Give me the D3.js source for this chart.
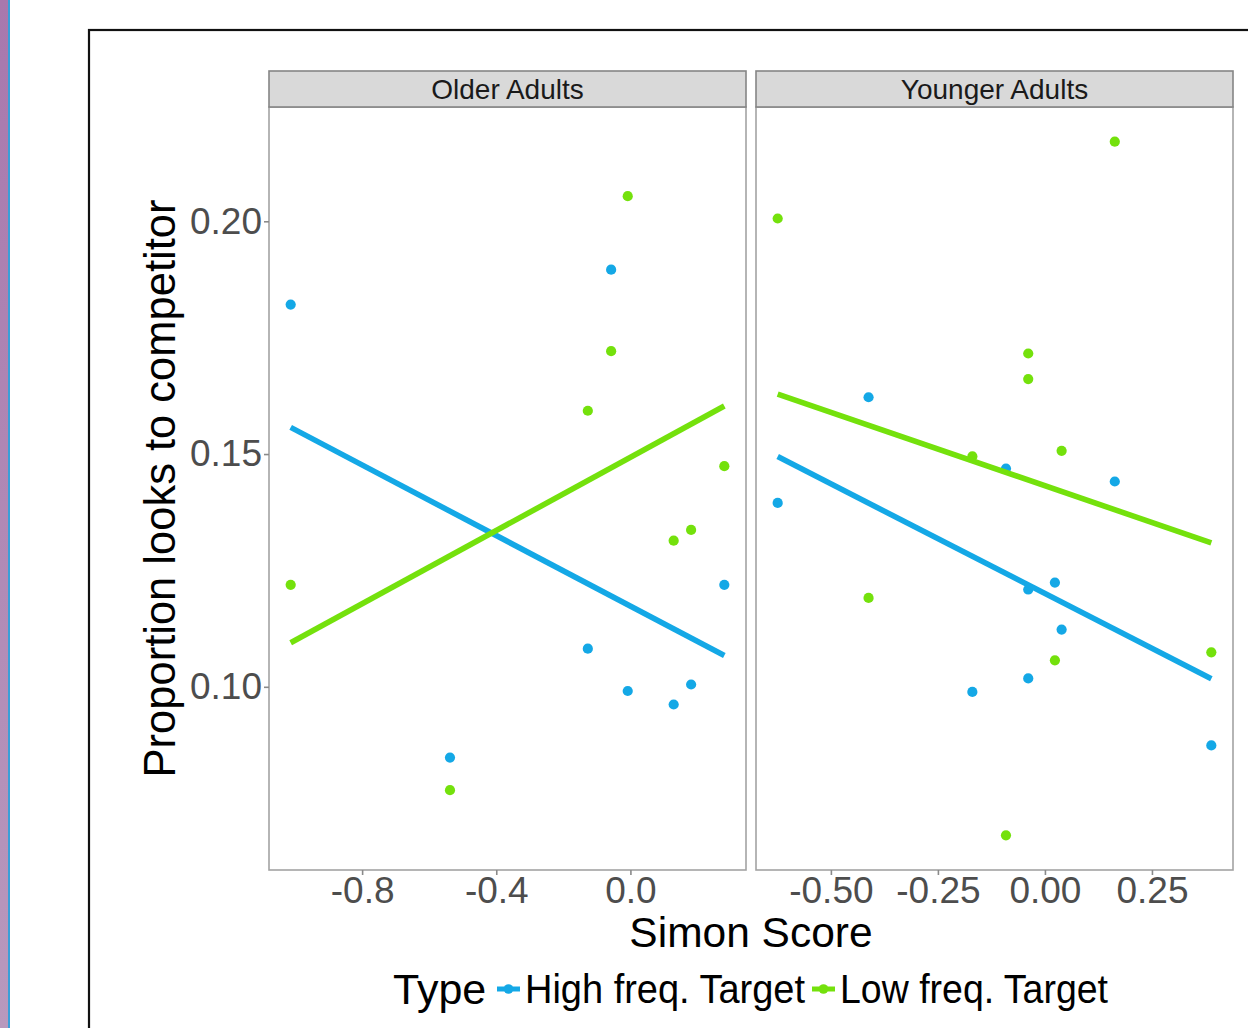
<!DOCTYPE html>
<html>
<head>
<meta charset="utf-8">
<script src="https://cdn.jsdelivr.net/npm/d3@7"></script>
<style>
  html, body { margin: 0; padding: 0; background: #fff; }
  svg { display: block; }
  text { font-family: "Liberation Sans", Arial, Helvetica, sans-serif; }
</style>
</head>
<body>
<svg id="chart" width="1248" height="1028"></svg>
<script>
// ---- Data ----
const panels = ["Older Adults", "Younger Adults"];
const seriesNames = ["High freq. Target", "Low freq. Target"];
const seriesColors = ["#14a8e6", "#74e10c"];

const olderX    = [-1.013, -0.538, -0.127, -0.0575, -0.008, 0.129, 0.181, 0.280];
const olderHigh = [0.1821, 0.0848, 0.1082, 0.1896, 0.0991, 0.0962, 0.1005, 0.1219];
const olderLow  = [0.1219, 0.0778, 0.1593, 0.1721, 0.2054, 0.1314, 0.1337, 0.1474];

const youngerX    = [-0.6243, -0.412, -0.1695, -0.091, -0.039, -0.039, 0.0233, 0.039, 0.1632, 0.3887];
const youngerHigh = [0.1395, 0.1622, 0.0989, 0.1469, 0.1209, 0.1018, 0.1224, 0.1123, 0.1441, 0.0874];
const youngerLow  = [0.2006, 0.1191, 0.1495, 0.0681, 0.1716, 0.1661, 0.1057, 0.1507, 0.2171, 0.1074];

const yTicks = [0.10, 0.15, 0.20];
const yTickLabels = ["0.10", "0.15", "0.20"];
const olderXTicks = [-0.8, -0.4, 0.0];
const olderXTickLabels = ["-0.8", "-0.4", "0.0"];
const youngerXTicks = [-0.5, -0.25, 0.0, 0.25];
const youngerXTickLabels = ["-0.50", "-0.25", "0.00", "0.25"];

const xTitle = "Simon Score";
const yTitle = "Proportion looks to competitor";
const legendTitle = "Type";

// ---- Layout ----
const svg = d3.select("#chart");
const W = 1248, H = 1028;
svg.append("rect").attr("width", W).attr("height", H).attr("fill", "#fff");

// left decorative strip
const grad = svg.append("defs").append("linearGradient").attr("id", "strip")
  .attr("x1", 0).attr("y1", 0).attr("x2", 0).attr("y2", 1);
grad.append("stop").attr("offset", 0).attr("stop-color", "#a878ad");
grad.append("stop").attr("offset", 1).attr("stop-color", "#b899bd");
svg.append("rect").attr("x", 0).attr("y", 0).attr("width", 8).attr("height", H).attr("fill", "url(#strip)");
svg.append("rect").attr("x", 8).attr("y", 0).attr("width", 2).attr("height", H).attr("fill", "#3a9fd8");

// outer frame (extends beyond the picture)
svg.append("rect").attr("x", 89).attr("y", 30).attr("width", 2000).attr("height", 2000)
  .attr("fill", "none").attr("stroke", "#111").attr("stroke-width", 2.2);

const panelTop = 107, panelBottom = 870;
const stripTop = 71;
const panelLefts = [269, 756];
const panelW = 477;

const allY = olderHigh.concat(olderLow, youngerHigh, youngerLow);
function expand(ext) { const r = ext[1] - ext[0]; return [ext[0] - 0.05 * r, ext[1] + 0.05 * r]; }
const y = d3.scaleLinear().domain(expand(d3.extent(allY))).range([panelBottom, panelTop]);

const panelData = [
  { x: olderX, ys: [olderHigh, olderLow], ticks: olderXTicks, labels: olderXTickLabels },
  { x: youngerX, ys: [youngerHigh, youngerLow], ticks: youngerXTicks, labels: youngerXTickLabels }
];

function lm(xs, ys) {
  const mx = d3.mean(xs), my = d3.mean(ys);
  let sxy = 0, sxx = 0;
  xs.forEach((v, i) => { sxy += (v - mx) * (ys[i] - my); sxx += (v - mx) * (v - mx); });
  const b = sxy / sxx;
  return { a: my - b * mx, b };
}

const tickColor = "#8a8a8a";
const tickTextColor = "#4d4d4d";
const tickFont = 37;

panelData.forEach((pd, pi) => {
  const left = panelLefts[pi];
  const x = d3.scaleLinear().domain(expand(d3.extent(pd.x))).range([left, left + panelW]);
  const g = svg.append("g");

  g.append("rect").attr("x", left).attr("y", panelTop).attr("width", panelW)
    .attr("height", panelBottom - panelTop).attr("fill", "#fff");

  // points
  pd.ys.forEach((ys, si) => {
    g.selectAll(null).data(ys.map((v, i) => [pd.x[i], v])).enter().append("circle")
      .attr("cx", d => x(d[0])).attr("cy", d => y(d[1])).attr("r", 5.1)
      .attr("fill", seriesColors[si]);
  });
  // regression lines
  pd.ys.forEach((ys, si) => {
    const m = lm(pd.x, ys);
    const ext = d3.extent(pd.x);
    const line = d3.line().x(d => x(d)).y(d => y(m.a + m.b * d));
    g.append("path").attr("d", line(ext)).attr("fill", "none")
      .attr("stroke", seriesColors[si]).attr("stroke-width", 5.6);
  });

  // panel border
  g.append("rect").attr("x", left).attr("y", panelTop).attr("width", panelW)
    .attr("height", panelBottom - panelTop).attr("fill", "none")
    .attr("stroke", "#a3a3a3").attr("stroke-width", 1.6);

  // strip
  g.append("rect").attr("x", left).attr("y", stripTop).attr("width", panelW)
    .attr("height", panelTop - stripTop).attr("fill", "#d9d9d9")
    .attr("stroke", "#858585").attr("stroke-width", 1.6);
  g.append("text").attr("x", left + panelW / 2).attr("y", (stripTop + panelTop) / 2)
    .attr("dy", "0.36em").attr("text-anchor", "middle").attr("font-size", 28)
    .attr("fill", "#1a1a1a").text(panels[pi]);

  // x axis
  const xAxis = d3.axisBottom(x).tickValues(pd.ticks)
    .tickFormat((d, i) => pd.labels[i]).tickSize(5).tickPadding(2);
  const ax = g.append("g").attr("transform", `translate(0,${panelBottom})`).call(xAxis);
  ax.select(".domain").remove();
  ax.selectAll("line").attr("stroke", tickColor).attr("stroke-width", 1.6);
  ax.selectAll("text").attr("font-size", tickFont).attr("fill", tickTextColor)
    .attr("font-family", "Liberation Sans, Arial, sans-serif");

  if (pi === 0) {
    const yAxis = d3.axisLeft(y).tickValues(yTicks).tickFormat((d, i) => yTickLabels[i])
      .tickSize(5).tickPadding(2);
    const ay = g.append("g").attr("transform", `translate(${left},0)`).call(yAxis);
    ay.select(".domain").remove();
    ay.selectAll("line").attr("stroke", tickColor).attr("stroke-width", 1.6);
    ay.selectAll("text").attr("font-size", tickFont).attr("fill", tickTextColor)
      .attr("font-family", "Liberation Sans, Arial, sans-serif");
  }
});

// axis titles
svg.append("text").attr("x", (panelLefts[0] + panelLefts[1] + panelW) / 2).attr("y", 947)
  .attr("text-anchor", "middle").attr("font-size", 42.5).attr("fill", "#000").text(xTitle);
svg.append("text").attr("transform", `translate(175,${(panelTop + panelBottom) / 2}) rotate(-90)`)
  .attr("text-anchor", "middle").attr("font-size", 43.5).attr("fill", "#000").text(yTitle);

// legend
const legY = 989;
svg.append("text").attr("x", 393).attr("y", legY).attr("dy", "0.35em")
  .attr("font-size", 43).attr("fill", "#000").text(legendTitle);
const keyX = [497, 812];
const labelX = [525, 840];
const labelW = [280, 268];
seriesNames.forEach((nm, i) => {
  svg.append("line").attr("x1", keyX[i]).attr("x2", keyX[i] + 23).attr("y1", legY).attr("y2", legY)
    .attr("stroke", seriesColors[i]).attr("stroke-width", 5);
  svg.append("circle").attr("cx", keyX[i] + 11.5).attr("cy", legY).attr("r", 4.8).attr("fill", seriesColors[i]);
  svg.append("text").attr("x", labelX[i]).attr("y", legY).attr("dy", "0.35em")
    .attr("font-size", 40).attr("fill", "#000")
    .attr("textLength", labelW[i]).attr("lengthAdjust", "spacingAndGlyphs").text(nm);
});
</script>
</body>
</html>
